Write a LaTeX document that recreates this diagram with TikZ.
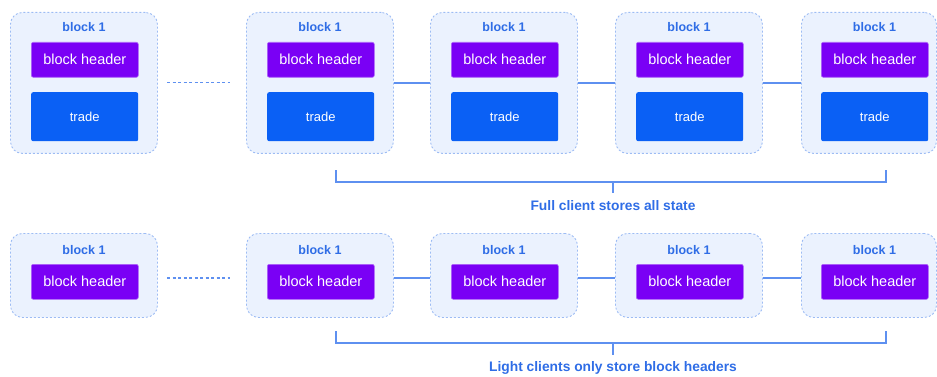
\documentclass[tikz,border=0pt]{standalone}
\usepackage{fontspec}
\setmainfont{Liberation Sans}
\usetikzlibrary{calc}
\definecolor{blockfill}{HTML}{EBF2FE}
\definecolor{blockedge}{HTML}{9DBCF4}
\definecolor{headfill}{HTML}{7A00F5}
\definecolor{tradefill}{HTML}{0A60F5}
\definecolor{labelblue}{HTML}{2F6DE6}
\definecolor{linkblue}{HTML}{5E90F0}
\tikzset{
  blockbox/.style={draw=blockedge, fill=blockfill, dash pattern=on 2pt off 2pt,
    line width=0.9pt, rounded corners=12pt, anchor=north west,
    minimum width=147pt, inner sep=0pt},
  fullbox/.style={blockbox, minimum height=141pt},
  lightbox/.style={blockbox, minimum height=84pt},
  headbox/.style={fill=headfill, draw=headfill!60!white, line width=0.6pt,
    rounded corners=2pt, anchor=north west, minimum width=107pt,
    minimum height=35pt, inner sep=0pt, text=white,
    font=\fontsize{14.5}{16}\selectfont},
  tradebox/.style={fill=tradefill, rounded corners=2pt, anchor=north west,
    minimum width=107pt, minimum height=49pt, inner sep=0pt, text=white,
    font=\fontsize{13}{15}\selectfont},
  blocklabel/.style={text=labelblue, font=\bfseries\fontsize{12.5}{14}\selectfont},
  caption/.style={text=labelblue, font=\bfseries\fontsize{13.8}{16}\selectfont},
  link/.style={draw=linkblue, line width=1.2pt},
  dottedlink/.style={link, dash pattern=on 3pt off 2.5pt},
}
\begin{document}
\begin{tikzpicture}[x=1pt, y=-1pt]
\useasboundingbox (0,0) rectangle (937,377);

% full-client chain
\foreach \n/\x in {a1/10, b1/246, c1/430, d1/615} {
  \node[fullbox] (\n) at (\x,12) {};
  \node[blocklabel] (\n-lab) at ($(\n.north)+(0,15)$) {block 1};
  \node[headbox] (\n-head) at (\x+21,42) {block header};
  \node[tradebox] (\n-trade) at (\x+21,92) {trade};
}
\node[fullbox, minimum width=135pt] (e1) at (801,12) {};
\node[blocklabel] (e1-lab) at (874.5,27) {block 1};
\node[headbox] (e1-head) at (821,42) {block header};
\node[tradebox] (e1-trade) at (821,92) {trade};

\coordinate (gap1l) at (167,82.5);
\coordinate (gap1r) at (230,82.5);
\draw[dottedlink] (gap1l) -- (gap1r);
\draw[link] (b1.east) -- (c1.west);
\draw[link] (c1.east) -- (d1.west);
\draw[link] (d1.east) -- (e1.west);

% light-client chain
\foreach \n/\x in {a2/10, b2/246, c2/430, d2/615} {
  \node[lightbox] (\n) at (\x,233) {};
  \node[blocklabel] (\n-lab) at ($(\n.north)+(0,17)$) {block 1};
  \node[headbox] (\n-head) at (\x+21,264) {block header};
}
\node[lightbox, minimum width=135pt] (e2) at (801,233) {};
\node[blocklabel] (e2-lab) at (874.5,250) {block 1};
\node[headbox] (e2-head) at (821,264) {block header};

\coordinate (gap2l) at (167,278);
\coordinate (gap2r) at (230,278);
\draw[dottedlink] (gap2l) -- (gap2r);
\draw[link] ([yshift=-2.5pt]b2.east) -- ([yshift=-2.5pt]c2.west);
\draw[link] ([yshift=-2.5pt]c2.east) -- ([yshift=-2.5pt]d2.west);
\draw[link] ([yshift=-2.5pt]d2.east) -- ([yshift=-2.5pt]e2.west);

% brackets and captions
\coordinate (br1l) at (336,170);
\coordinate (br1r) at (886,170);
\coordinate (br1m) at (613,182);
\node[caption] (cap1) at (613,206) {Full client stores all state};
\draw[link] (br1l) |- (br1m) -| (br1r);
\draw[link] (br1m) -- ++(0,11);

\coordinate (br2l) at (336,331);
\coordinate (br2r) at (886,331);
\coordinate (br2m) at (613,343);
\node[caption] (cap2) at (613,368) {Light clients only store block headers};
\draw[link] (br2l) |- (br2m) -| (br2r);
\draw[link] (br2m) -- ++(0,12);
\end{tikzpicture}
\end{document}
